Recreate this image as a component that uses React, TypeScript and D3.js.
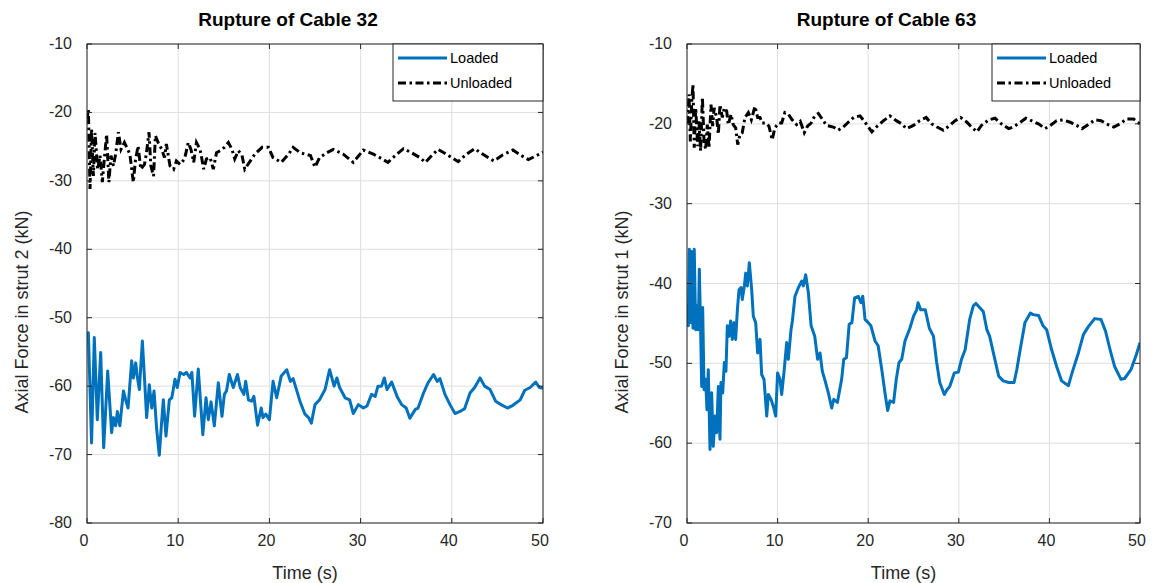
import React from "react";
import * as d3 from "d3";

// ---- Data ----
const leftLoadedT = [0,0.15,0.5,0.8,1.13,1.5,1.83,2.27,2.7,2.9,3.14,3.33,3.6,4.0,4.24,4.5,4.9,5.08,5.34,5.5,5.74,6.07,6.29,6.54,6.83,7.1,7.35,7.64,7.93,8.15,8.37,8.66,9.03,9.3,9.65,9.9,10.2,10.6,10.9,11.3,11.5,11.8,12.2,12.7,13.05,13.3,13.6,13.96,14.4,14.8,15.06,15.3,15.6,16.04,16.5,16.8,17.2,17.4,17.7,18.05,18.3,18.7,19.1,19.3,19.6,20.0,20.4,20.8,21.3,21.9,22.3,22.6,23.4,23.9,24.3,24.6,25,25.5,26.1,26.6,27.1,27.4,27.7,28.3,28.8,29.2,29.75,30.3,30.7,31.2,31.6,31.9,32.3,32.6,32.9,33.4,34.0,34.5,35.0,35.4,36.0,36.3,36.9,37.4,38.0,38.4,38.7,39.25,39.8,40.35,40.9,41.4,42.0,42.5,43.1,43.6,44.2,44.8,45.4,46.1,46.7,47.5,48.0,48.6,49.2,49.6,50];
const leftLoadedV = [-53,-52.2,-68.3,-52.9,-64.9,-55.1,-69,-57.8,-66.8,-64.6,-65.8,-63.7,-65.8,-60.7,-62,-63.2,-56.3,-58.8,-56.6,-58.5,-60.5,-53.4,-58.5,-64.6,-59.8,-63.2,-60.7,-66.3,-70.1,-65.8,-62,-67.3,-62,-61.7,-59,-60.2,-58,-58.3,-58,-58.8,-58,-64.4,-57.5,-67.1,-61.7,-64.9,-62.3,-65.8,-59.5,-64.4,-61.2,-60.7,-58.3,-60.2,-58.3,-60.2,-61.2,-59.3,-62,-62.2,-61.5,-65.7,-63.2,-64.6,-64.1,-64.9,-59.3,-61.7,-58.5,-57.6,-59.3,-58.9,-62.4,-64.1,-64.6,-65.4,-62.7,-62,-60.5,-57.6,-60,-58.8,-60.2,-61.7,-62,-64,-62.7,-63.2,-62.9,-61.2,-61.5,-60,-60,-58.8,-60.5,-59.4,-61.5,-62.7,-63.2,-64.7,-63.4,-63.2,-61,-59.5,-58.3,-59.3,-58.9,-61.2,-62.7,-64,-63.7,-63.3,-61,-60.2,-58.8,-60,-60.5,-62.2,-62.7,-63.2,-62.8,-62,-60.6,-60.2,-59.4,-60.2,-60.3];

const leftUnloadedT = [0,0.15,0.33,0.5,0.7,0.88,1.17,1.43,1.68,1.9,2.15,2.4,2.63,2.9,3.14,3.44,3.73,4.1,4.46,4.7,5.08,5.3,5.6,5.9,6.3,6.5,6.8,7.0,7.3,7.5,7.8,8.2,8.5,8.7,9.1,9.5,9.8,10.2,10.7,11.1,11.4,11.7,12.0,12.4,12.8,13.1,13.5,13.85,14.2,14.6,15.06,15.5,15.9,16.2,16.6,17.0,17.3,18.4,19.2,19.9,20.4,21.3,22.1,22.6,23.4,24.5,25,25.5,26.3,27.0,28.1,29.2,30.3,31.4,32.1,33,33.8,34.7,35.6,36.5,37.1,37.8,38.5,39.4,40.7,41.6,42.5,43.5,44.6,45.6,46.7,47.5,48.4,49.3,50];
const leftUnloadedV = [-21,-19.5,-31.2,-22.4,-29.3,-23,-28.3,-26.3,-30.2,-26.8,-23.2,-30.2,-26.3,-27.8,-26.1,-22.9,-25.4,-24.4,-25.4,-26.1,-30.2,-27.1,-24.9,-28.3,-27.6,-26.1,-22.9,-27.8,-29.3,-23.4,-24.4,-25.4,-26.6,-24.6,-27.8,-28.3,-27.1,-27.6,-26.8,-24.4,-25.4,-27.3,-24.4,-25.4,-28.3,-26.8,-26.6,-28.3,-25.9,-25.6,-25.1,-24.4,-25.4,-26.8,-25.6,-26.3,-28.3,-26.1,-25.1,-25.1,-26.6,-27.3,-26.1,-25.1,-25.9,-26.3,-28.0,-26.6,-25.9,-25.4,-26.1,-27.3,-25.5,-26.1,-26.6,-27.3,-26.3,-25.3,-25.9,-26.6,-27.3,-26.3,-25.4,-26.1,-27.2,-26.1,-25.3,-26.2,-27.1,-26.2,-25.5,-26.2,-26.9,-26.3,-25.8];

const rightLoadedT = [0,0.07,0.15,0.26,0.4,0.5,0.66,0.8,0.96,1.1,1.25,1.36,1.5,1.62,1.73,1.88,2.06,2.2,2.35,2.54,2.72,2.9,3.1,3.27,3.46,3.64,3.75,3.94,4.12,4.3,4.45,4.64,4.82,5.0,5.19,5.37,5.56,5.74,5.96,6.1,6.33,6.48,6.66,6.88,7.14,7.32,7.58,7.8,8.06,8.24,8.5,8.8,8.98,9.27,9.53,9.79,10.0,10.26,10.45,10.7,11.0,11.18,11.48,11.63,11.92,12.3,12.66,12.84,13.1,13.4,13.7,14.1,14.42,14.68,14.94,15.2,15.6,15.97,16.2,16.6,17.07,17.3,17.6,17.9,18.2,18.5,18.9,19.2,19.4,19.65,20.0,20.3,20.75,21.1,21.5,21.9,22.15,22.4,22.8,23.1,23.4,23.7,24.06,24.6,25.0,25.35,25.5,25.8,26.3,26.75,27.2,27.56,27.9,28.4,28.7,29.0,29.5,29.95,30.3,30.7,31.2,31.6,31.9,32.3,32.7,33.1,33.4,33.9,34.4,34.9,35.5,36.1,36.4,36.8,37.3,37.9,38.2,38.8,39.3,39.7,40.25,40.8,41.35,42.1,42.5,43.2,43.75,44.3,45.0,45.7,46.2,46.7,47.2,47.9,48.3,49.0,49.6,50];
const rightLoadedV = [-43,-42.8,-45.3,-35.7,-44.9,-36,-45.6,-35.7,-45.8,-42.8,-45.8,-38.2,-45.6,-52.9,-43.0,-53.3,-52,-55.8,-50.8,-60.8,-53.7,-60.4,-56.6,-58.7,-52.9,-59.5,-52.4,-53.7,-49.9,-51,-45.3,-46.6,-44.7,-47,-44.9,-47,-43.3,-40.8,-40.5,-42,-40.3,-38.7,-40.3,-37.4,-40.8,-44.1,-44.9,-48.7,-47,-51.4,-52,-56.6,-53.9,-54.5,-55.4,-56.6,-51.2,-52,-53.9,-51.2,-47.4,-49.5,-45.8,-44.7,-41.6,-40.5,-39.7,-40.3,-38.9,-41.2,-45.3,-46.6,-49.5,-48.7,-51,-52,-53.7,-55.6,-54.5,-54.9,-52,-49.5,-49.3,-45.1,-44.9,-41.8,-41.6,-42.4,-41.6,-44.5,-44.9,-45.3,-47.2,-47.8,-50.8,-54.1,-55.9,-54.7,-54.9,-52,-49.9,-49.5,-47.2,-45.6,-44.1,-43.3,-42.4,-43.3,-43.3,-45.6,-46.6,-49.9,-52.4,-53.9,-53.3,-52.9,-51.2,-51.1,-49.5,-48.3,-44.5,-42.8,-42.5,-43,-43.5,-45.8,-46.6,-49.1,-51.6,-52.2,-52.4,-52.4,-50.8,-48.1,-44.9,-43.7,-43.9,-44,-45.3,-45.8,-48.3,-50.4,-52.2,-52.8,-51.2,-48.7,-46.4,-45.4,-44.4,-44.5,-46,-48.3,-50.4,-52,-51.9,-50.8,-48.9,-47.4];

const rightUnloadedT = [0,0.07,0.22,0.37,0.52,0.66,0.8,0.96,1.18,1.32,1.5,1.7,1.88,2.06,2.24,2.43,2.65,2.83,3.0,3.27,3.46,3.64,3.9,4.12,4.38,4.56,4.86,5.1,5.37,5.6,5.85,6.1,6.4,6.77,7.1,7.5,7.8,8.06,8.3,8.7,9.05,9.4,9.7,10.1,10.45,10.8,11.2,11.6,12.1,12.5,12.95,13.3,13.7,14.1,14.5,15.4,16.15,16.7,17.25,17.8,18.4,19.1,19.65,20.4,20.9,21.7,22.4,23.1,23.7,24.2,25.0,25.7,26.4,27.0,27.6,28.3,29.0,29.6,30.2,30.9,31.4,32.0,32.5,33.3,34.0,34.7,35.5,36.0,36.8,37.4,38.0,38.8,39.5,40.1,40.8,41.5,42.3,43.0,43.6,44.3,45.0,45.7,46.3,47.1,47.8,48.5,49.3,50];
const rightUnloadedV = [-20,-19.7,-16.3,-22.2,-17.2,-15.1,-23,-18,-22.8,-19.7,-23.4,-16.7,-22.2,-23.2,-20.1,-23,-17.6,-20.3,-18,-19.2,-21.3,-17.6,-19.2,-18,-18.4,-20.1,-18.8,-20.1,-20.5,-22.6,-21.3,-21.1,-19.2,-18.6,-19.5,-17.8,-19.2,-19.2,-19.9,-19.9,-20.3,-22,-20.5,-19.9,-19.9,-18.6,-18.8,-19.5,-20.1,-19.7,-21.1,-20.3,-19.9,-19.0,-18.7,-20.2,-20.4,-20.8,-20.4,-19.8,-19.2,-19,-19.8,-21,-20.4,-19.6,-19,-19.6,-20,-20.6,-20.2,-19.6,-19.2,-20,-20.4,-20.8,-20.2,-19.6,-19.2,-19.8,-20.4,-21,-20.2,-19.5,-19.3,-20,-20.6,-20.4,-19.8,-19.3,-19.6,-20,-20.6,-20.2,-19.6,-19.5,-19.8,-20.2,-20.6,-20.1,-19.5,-19.6,-20,-20.4,-20,-19.4,-19.4,-20];

const xTicks = [0, 10, 20, 30, 40, 50];
const leftYTicks = [-10, -20, -30, -40, -50, -60, -70, -80];
const rightYTicks = [-10, -20, -30, -40, -50, -60, -70];
const seriesNames = ["Loaded", "Unloaded"];

const BLUE = "#0072BD";
const DASH = "8,3.5,2.5,3.5";
const FONT = "'Liberation Sans', Arial, Helvetica, sans-serif";
const LW = 3;

type PanelProps = {
  x0: number; x1: number; y0: number; y1: number;
  yDomain: [number, number];
  yTicks: number[];
  title: string; yLabel: string;
  loadedT: number[]; loadedV: number[];
  unloadedT: number[]; unloadedV: number[];
  id: string;
  legendX: number;
};

function Panel(p: PanelProps) {
  const xs = d3.scaleLinear().domain([0, 50]).range([p.x0, p.x1]);
  const ys = d3.scaleLinear().domain(p.yDomain).range([p.y1, p.y0]);
  const line = d3.line<[number, number]>().x(d => xs(d[0])).y(d => ys(d[1]));
  const loaded = line(p.loadedT.map((t, i) => [t, p.loadedV[i]] as [number, number])) || "";
  const unloaded = line(p.unloadedT.map((t, i) => [t, p.unloadedV[i]] as [number, number])) || "";
  const cx = (p.x0 + p.x1) / 2;
  const tick = 5;
  const lx = p.legendX;
  return (
    <g>
      <defs>
        <clipPath id={p.id}>
          <rect x={p.x0} y={p.y0} width={p.x1 - p.x0} height={p.y1 - p.y0} />
        </clipPath>
      </defs>
      <rect x={p.x0} y={p.y0} width={p.x1 - p.x0} height={p.y1 - p.y0} fill="#fff" />
      {/* grid */}
      {xTicks.map(t => (
        <line key={"gx" + t} x1={xs(t)} x2={xs(t)} y1={p.y0} y2={p.y1} stroke="#dedede" strokeWidth={1} />
      ))}
      {p.yTicks.map(t => (
        <line key={"gy" + t} x1={p.x0} x2={p.x1} y1={ys(t)} y2={ys(t)} stroke="#dedede" strokeWidth={1} />
      ))}
      {/* series */}
      <g clipPath={`url(#${p.id})`}>
        <path d={loaded} fill="none" stroke={BLUE} strokeWidth={LW} strokeLinejoin="round" />
        <path d={unloaded} fill="none" stroke="#000" strokeWidth={LW} strokeDasharray={DASH} />
      </g>
      {/* ticks */}
      {xTicks.map(t => (
        <g key={"tx" + t}>
          <line x1={xs(t)} x2={xs(t)} y1={p.y1} y2={p.y1 - tick} stroke="#262626" />
          <line x1={xs(t)} x2={xs(t)} y1={p.y0} y2={p.y0 + tick} stroke="#262626" />
          <text x={xs(t) - 3} y={p.y1 + 23} textAnchor="middle" fontSize={16} fontFamily={FONT} fill="#262626">{t}</text>
        </g>
      ))}
      {p.yTicks.map(t => (
        <g key={"ty" + t}>
          <line x1={p.x0} x2={p.x0 + tick} y1={ys(t)} y2={ys(t)} stroke="#262626" />
          <line x1={p.x1} x2={p.x1 - tick} y1={ys(t)} y2={ys(t)} stroke="#262626" />
          <text x={p.x0 - 15} y={ys(t) + 5} textAnchor="end" fontSize={16} fontFamily={FONT} fill="#262626">{t}</text>
        </g>
      ))}
      {/* box */}
      <rect x={p.x0} y={p.y0} width={p.x1 - p.x0} height={p.y1 - p.y0} fill="none" stroke="#262626" strokeWidth={1} />
      {/* labels */}
      <text x={cx - 27} y={26} textAnchor="middle" fontSize={19} fontWeight="bold" fontFamily={FONT} fill="#000">{p.title}</text>
      <text x={cx - 10} y={p.y1 + 56} textAnchor="middle" fontSize={18} fontFamily={FONT} fill="#262626">Time (s)</text>
      <text transform={`translate(${p.x0 - 59},312) rotate(-90)`} textAnchor="middle" fontSize={18} fontFamily={FONT} fill="#262626">{p.yLabel}</text>
      {/* legend */}
      <rect x={lx} y={p.y0} width={p.x1 - lx} height={57} fill="#fff" stroke="#262626" strokeWidth={1} />
      <line x1={lx + 5} x2={lx + 54} y1={p.y0 + 14} y2={p.y0 + 14} stroke={BLUE} strokeWidth={LW} />
      <text x={lx + 57} y={p.y0 + 19} fontSize={14.5} fontFamily={FONT} fill="#000">{seriesNames[0]}</text>
      <line x1={lx + 5} x2={lx + 54} y1={p.y0 + 39} y2={p.y0 + 39} stroke="#000" strokeWidth={LW} strokeDasharray={DASH} />
      <text x={lx + 57} y={p.y0 + 44} fontSize={14.5} fontFamily={FONT} fill="#000">{seriesNames[1]}</text>
    </g>
  );
}

export default function App() {
  return (
    <svg width={1152} height={583} style={{ position: "absolute", left: 0, top: 0, background: "#fff" }}>
      <rect width={1152} height={583} fill="#fff" />
      <Panel id="clipL" x0={87} x1={543} y0={44} y1={523} yDomain={[-80, -10]} yTicks={leftYTicks}
        title="Rupture of Cable 32" yLabel="Axial Force in strut 2 (kN)"
        loadedT={leftLoadedT} loadedV={leftLoadedV} unloadedT={leftUnloadedT} unloadedV={leftUnloadedV} legendX={393} />
      <Panel id="clipR" x0={687} x1={1140} y0={44} y1={523} yDomain={[-70, -10]} yTicks={rightYTicks}
        title="Rupture of Cable 63" yLabel="Axial Force in strut 1 (kN)"
        loadedT={rightLoadedT} loadedV={rightLoadedV} unloadedT={rightUnloadedT} unloadedV={rightUnloadedV} legendX={992} />
    </svg>
  );
}
